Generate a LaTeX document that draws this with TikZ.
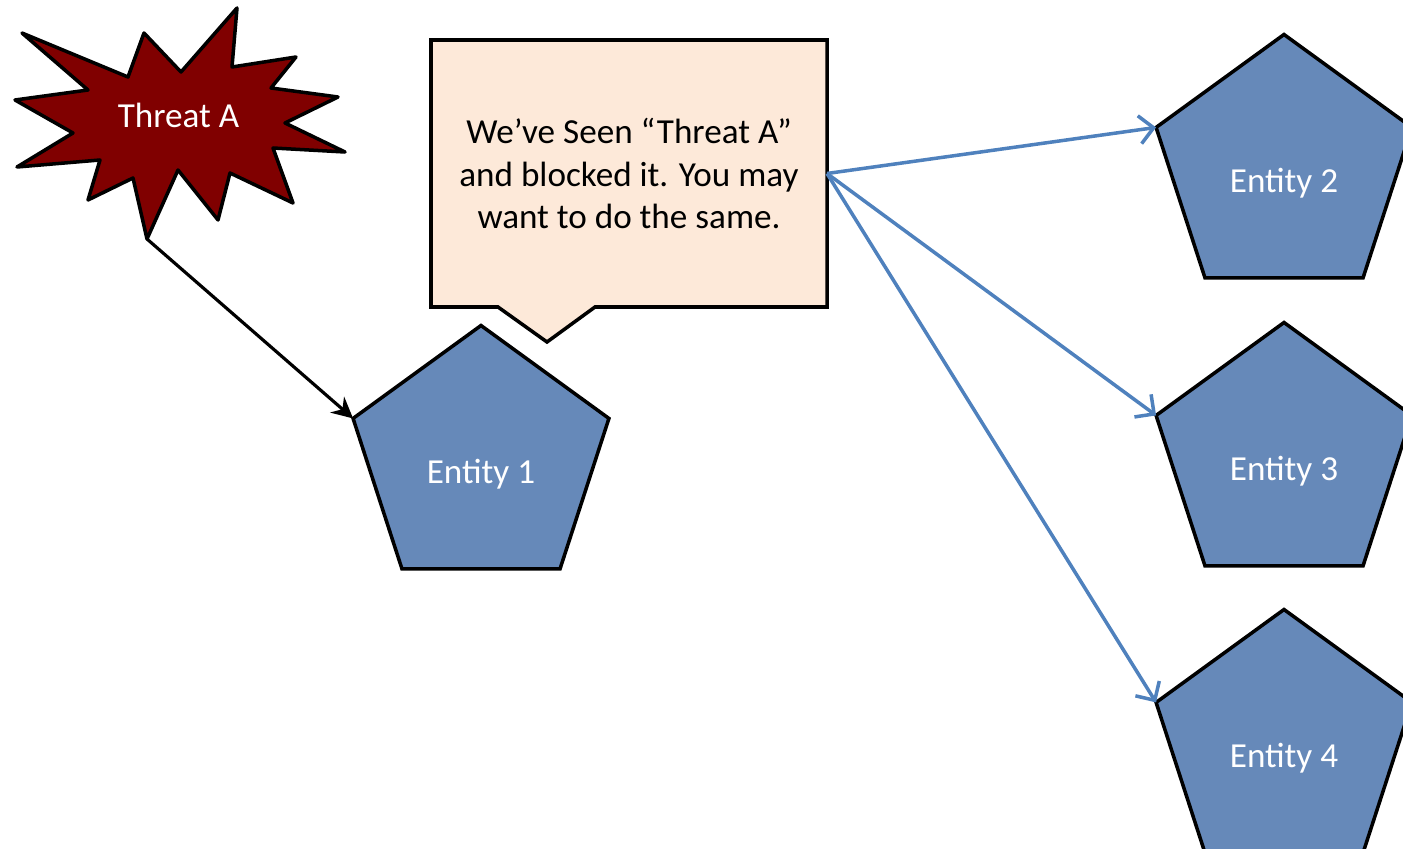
\documentclass[tikz,border=0pt]{standalone}
\usepackage{fontspec}
\setmainfont{Carlito}
\usetikzlibrary{arrows.meta,shapes.geometric}
\definecolor{threatred}{RGB}{128,0,0}
\definecolor{entityblue}{RGB}{102,137,185}
\definecolor{linkblue}{RGB}{79,129,189}
\definecolor{notepeach}{RGB}{253,233,217}
\tikzset{
	entity/.style={regular polygon, regular polygon sides=5, minimum size=2.69cm,
		inner sep=0pt, outer sep=0pt, draw=black, line width=1pt, fill=entityblue},
	entity text/.style={text=white, yshift=-0.14cm},
	threat/.style={draw=black, line width=1pt, fill=threatred, line join=round},
	note/.style={draw=black, line width=1pt, fill=notepeach, line join=miter},
	note text/.style={minimum width=3.96cm, minimum height=2.67cm, outer sep=0pt,
		align=center, font=\fontsize{10}{12.2}\selectfont},
	hit/.style={-{Stealth[length=6pt,width=6pt,inset=2pt]}, line width=0.9pt}, % black arrow
	share/.style={-{Straight Barb[length=4pt,width=8pt]}, linkblue, line width=1pt}, % blue arrows
}
\begin{document}
\begin{tikzpicture}
	\useasboundingbox (0,0) rectangle (14.03,-8.49);
	\clip (0,0) rectangle (14.03,-8.49);

	% the threat
	\draw[threat] (0.22,-0.33) -- (1.28,-0.77) -- (1.44,-0.33) -- (1.81,-0.72)
		-- (2.37,-0.08) -- (2.32,-0.67) -- (2.96,-0.57) -- (2.71,-0.88)
		-- (3.38,-0.97) -- (2.85,-1.23) -- (3.45,-1.52) -- (2.73,-1.48)
		-- (2.93,-2.03) -- (2.30,-1.73) -- (2.18,-2.20) -- (1.78,-1.70)
		-- (1.47,-2.39) coordinate (tip) -- (1.33,-1.78) -- (0.88,-2.00)
		-- (1.00,-1.60) -- (0.17,-1.67) -- (0.73,-1.33) -- (0.15,-1.00)
		-- (0.88,-0.90) -- cycle;
	\node[white, anchor=base] (threatA) at (1.785,-1.28) {Threat A};

	% message box with its pointer
	\draw[note] (4.31,-0.40) -- (8.27,-0.40) -- (8.27,-3.07) -- (5.95,-3.07)
		-- (5.47,-3.42) -- (4.98,-3.07) -- (4.31,-3.07) -- cycle;
	\node[note text] (msg) at (6.29,-1.735)
		{We’ve Seen “Threat A”\\and blocked it.  You may\\want to do the same.};

	% entities
	\node[entity, label={[entity text]center:Entity 1}] (e1) at (4.81,-4.60) {};
	\node[entity, label={[entity text]center:Entity 2}] (e2) at (12.84,-1.69) {};
	\node[entity, label={[entity text]center:Entity 3}] (e3) at (12.84,-4.57) {};
	\node[entity, label={[entity text]center:Entity 4}] (e4) at (12.84,-7.44) {};

	\draw[hit] (tip) -- (e1.corner 2);
	\foreach \n in {e2,e3,e4}
		\draw[share] (msg.east) -- (\n.corner 2);
\end{tikzpicture}
\end{document}
